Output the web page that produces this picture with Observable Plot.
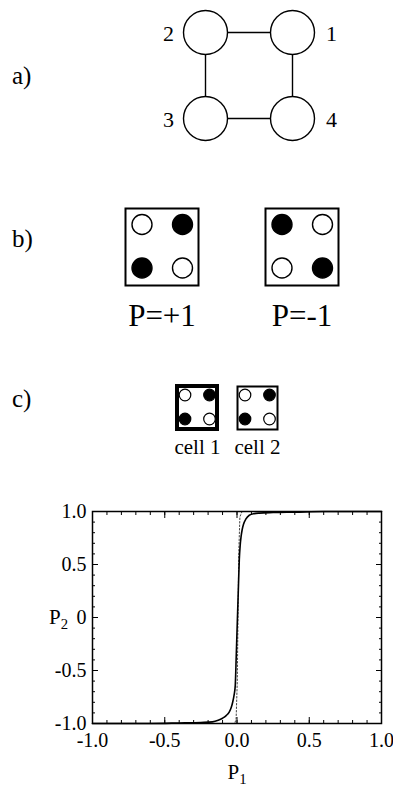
<!DOCTYPE html>
<html><head><meta charset="utf-8">
<script src="https://cdn.jsdelivr.net/npm/d3@7"></script>
<script src="https://cdn.jsdelivr.net/npm/@observablehq/plot@0.6"></script>
<style>
html,body{margin:0;padding:0;background:#fff;}
#fig{position:relative;width:393px;height:787px;overflow:hidden;font-family:"Liberation Serif","Times New Roman",serif;color:#000;}
#fig > .p{position:absolute;left:0;}
.lab{position:absolute;line-height:1;white-space:nowrap;}
.lab sub{font-size:70%;vertical-align:-0.35em;line-height:0;}
</style></head><body>
<div id="fig"></div>
<script>
// ---------------- data ----------------
// a) four-dot cell: node ids with grid column / row
const nodeIds = [1, 2, 3, 4];
const nodeCols = [1, 0, 0, 1];
const nodeRows = [0, 0, 1, 1];
const edgePairs = [[2, 1], [1, 4], [4, 3], [3, 2]];

// b) polarization states; patterns in order TL, TR, BL, BR (1 = occupied)
const polStates = ["P=+1", "P=-1"];
const polPatterns = [[0, 1, 1, 0], [1, 0, 0, 1]];

// c) two coupled cells
const cellNames = ["cell 1", "cell 2"];
const cellPatterns = [[0, 1, 1, 0], [0, 1, 1, 0]];
const siteCols = [0, 1, 0, 1];
const siteRows = [0, 0, 1, 1];

// cell-cell response P2(P1)
const curveP1 = [-1.0, -0.6, -0.4, -0.25, -0.17, -0.13, -0.1, -0.075, -0.053, -0.04, -0.03, -0.02, -0.012, -0.005, 0.002, 0.009, 0.016, 0.022, 0.028, 0.036, 0.045, 0.062, 0.085, 0.12, 0.154, 0.25, 0.4, 0.6, 1.0];
const curveP2 = [-1.0, -1.0, -0.995, -0.99, -0.985, -0.97, -0.95, -0.925, -0.89, -0.85, -0.8, -0.73, -0.64, -0.35, -0.05, 0.25, 0.55, 0.68, 0.76, 0.83, 0.88, 0.93, 0.965, 0.98, 0.985, 0.99, 0.994, 1.0, 1.0];
const stepP1 = [-1.0, -0.3, -0.015, -0.006, 0.002, 0.007, 0.012, 0.02, 0.035, 0.3, 1.0];
const stepP2 = [-1.0, -1.0, -1.0, -0.95, -0.6, 0.0, 0.6, 0.95, 1.0, 1.0, 1.0];

const xTickValues = [-1, -0.5, 0, 0.5, 1];
const xTickLabels = ["-1.0", "-0.5", "0.0", "0.5", "1.0"];
const yTickValues = [-1, -0.5, 0, 0.5, 1];
const yTickLabels = ["-1.0", "-0.5", "0", "0.5", "1.0"];
const minorTickValues = d3.ticks(-1, 1, 20);

// ---------------- drawing ----------------
const fig = document.getElementById("fig");
const serif = '"Liberation Serif","Times New Roman",serif';
function place(el, top) { el.classList.add("p"); el.style.top = top + "px"; fig.appendChild(el); }
function label(html, left, cy, size, center) {
  const d = document.createElement("div");
  d.className = "lab";
  d.innerHTML = html;
  d.style.left = left + "px";
  d.style.top = cy + "px";
  d.style.fontSize = size + "px";
  d.style.transform = center ? "translate(-50%,-50%)" : "translate(0,-50%)";
  fig.appendChild(d);
}

// a)
const nodes = nodeIds.map((id, i) => ({id, col: nodeCols[i], row: nodeRows[i]}));
const byId = new Map(nodes.map(n => [n.id, n]));
const edges = edgePairs.map(([a, b]) => ({a: byId.get(a), b: byId.get(b)}));
const plotA = Plot.plot({
  width: 393, height: 150, marginLeft: 205, marginRight: 101, marginTop: 32, marginBottom: 32,
  x: {domain: [0, 1], axis: null}, y: {domain: [0, 1], axis: null, reverse: true},
  style: {fontFamily: serif, background: "transparent", overflow: "visible"},
  marks: [
    Plot.link(edges, {x1: d => d.a.col, y1: d => d.a.row, x2: d => d.b.col, y2: d => d.b.row, stroke: "black", strokeWidth: 1.4}),
    Plot.dot(nodes, {x: "col", y: "row", r: 22, fill: "white", stroke: "black", strokeWidth: 1.4}),
    Plot.text(nodes.filter(n => n.col === 0), {x: "col", y: "row", text: "id", dx: -37, dy: 1, fontSize: 22}),
    Plot.text(nodes.filter(n => n.col === 1), {x: "col", y: "row", text: "id", dx: 39, dy: 1, fontSize: 22})
  ]
});
place(plotA, 0);

function expand(names, patterns) {
  return names.flatMap((name, k) => patterns[k].map((f, j) => ({name, col: siteCols[j], row: siteRows[j], filled: f})));
}

// b)
const plotB = Plot.plot({
  width: 393, height: 150, marginLeft: 125, marginRight: 55, marginTop: 18, marginBottom: 55,
  fx: {domain: polStates, paddingInner: 0.479, paddingOuter: 0, axis: null},
  x: {domain: [0, 1], axis: null, insetLeft: 16.5, insetRight: 16},
  y: {domain: [0, 1], axis: null, reverse: true, insetTop: 16, insetBottom: 17.5},
  color: {type: "identity"},
  style: {fontFamily: serif, background: "transparent", overflow: "visible"},
  marks: [
    Plot.frame({stroke: "black", strokeWidth: 2}),
    Plot.dot(expand(polStates, polPatterns), {fx: "name", x: "col", y: "row", r: 10, fill: d => d.filled ? "black" : "white", stroke: "black", strokeWidth: 1.4}),
    Plot.text(polStates, {fx: d => d, text: d => d, frameAnchor: "bottom", lineAnchor: "middle", dy: 31, fontSize: 31})
  ]
});
place(plotB, 190);

// c)
const plotCells = Plot.plot({
  width: 393, height: 100, marginLeft: 176, marginRight: 116, marginTop: 16, marginBottom: 41,
  fx: {domain: cellNames, paddingInner: 0.336, paddingOuter: 0, axis: null},
  x: {domain: [0, 1], axis: null, insetLeft: 7.5, insetRight: 8},
  y: {domain: [0, 1], axis: null, reverse: true, insetTop: 8.5, insetBottom: 10.5},
  color: {type: "identity"},
  style: {fontFamily: serif, background: "transparent", overflow: "visible"},
  marks: [
    Plot.frame({stroke: "black", strokeWidth: 2}),
    Plot.rect(cellNames.slice(0, 1), {fx: d => d, fill: "none", stroke: "black", strokeWidth: 4}),
    Plot.dot(expand(cellNames, cellPatterns), {fx: "name", x: "col", y: "row", r: 5.8, fill: d => d.filled ? "black" : "white", stroke: "black", strokeWidth: 1.2}),
    Plot.text(cellNames, {fx: d => d, text: d => d, frameAnchor: "bottom", lineAnchor: "middle", dy: 18, fontSize: 21})
  ]
});
place(plotCells, 370);

// P2 vs P1 chart
const curve = curveP1.map((x, i) => ({x, y: curveP2[i]}));
const step = stepP1.map((x, i) => ({x, y: stepP2[i]}));
const xLab = new Map(xTickValues.map((v, i) => [v, xTickLabels[i]]));
const yLab = new Map(yTickValues.map((v, i) => [v, yTickLabels[i]]));
const tickStyle = {stroke: "black", strokeWidth: 1, fill: "none", label: null};
const chart = Plot.plot({
  width: 393, height: 307, marginLeft: 92, marginRight: 12, marginTop: 31, marginBottom: 64,
  x: {domain: [-1, 1]}, y: {domain: [-1, 1]},
  style: {fontFamily: serif, fontSize: "20px", background: "transparent", overflow: "visible", color: "black"},
  marks: [
    Plot.line(step, {x: "x", y: "y", stroke: "#444", strokeWidth: 1, strokeDasharray: "1.5,2"}),
    Plot.line(curve, {x: "x", y: "y", stroke: "black", strokeWidth: 1.6, curve: "monotone-x"}),
    Plot.frame({stroke: "black", strokeWidth: 1.5}),
    Plot.axisX(xTickValues, {anchor: "bottom", tickSize: 0, tickPadding: 9, tickFormat: d => xLab.get(d), label: null}),
    Plot.axisY(yTickValues, {anchor: "left", tickSize: 0, tickPadding: 6, tickFormat: d => yLab.get(d), label: null}),
    Plot.axisX(xTickValues, {anchor: "bottom", tickSize: -6, ...tickStyle}),
    Plot.axisX(xTickValues, {anchor: "top", tickSize: -6, ...tickStyle}),
    Plot.axisY(yTickValues, {anchor: "left", tickSize: -6, ...tickStyle}),
    Plot.axisY(yTickValues, {anchor: "right", tickSize: -6, ...tickStyle}),
    Plot.axisX(minorTickValues, {anchor: "bottom", tickSize: -3, ...tickStyle}),
    Plot.axisX(minorTickValues, {anchor: "top", tickSize: -3, ...tickStyle}),
    Plot.axisY(minorTickValues, {anchor: "left", tickSize: -3, ...tickStyle}),
    Plot.axisY(minorTickValues, {anchor: "right", tickSize: -3, ...tickStyle})
  ]
});
place(chart, 480);

// panel letters and axis titles
label("a)", 12, 75, 25, false);
label("b)", 12, 238, 25, false);
label("c)", 12, 398, 25, false);
label("P<sub>2</sub>", 49, 617, 21, false);
label("P<sub>1</sub>", 237, 772, 21, true);
</script>
</body></html>
